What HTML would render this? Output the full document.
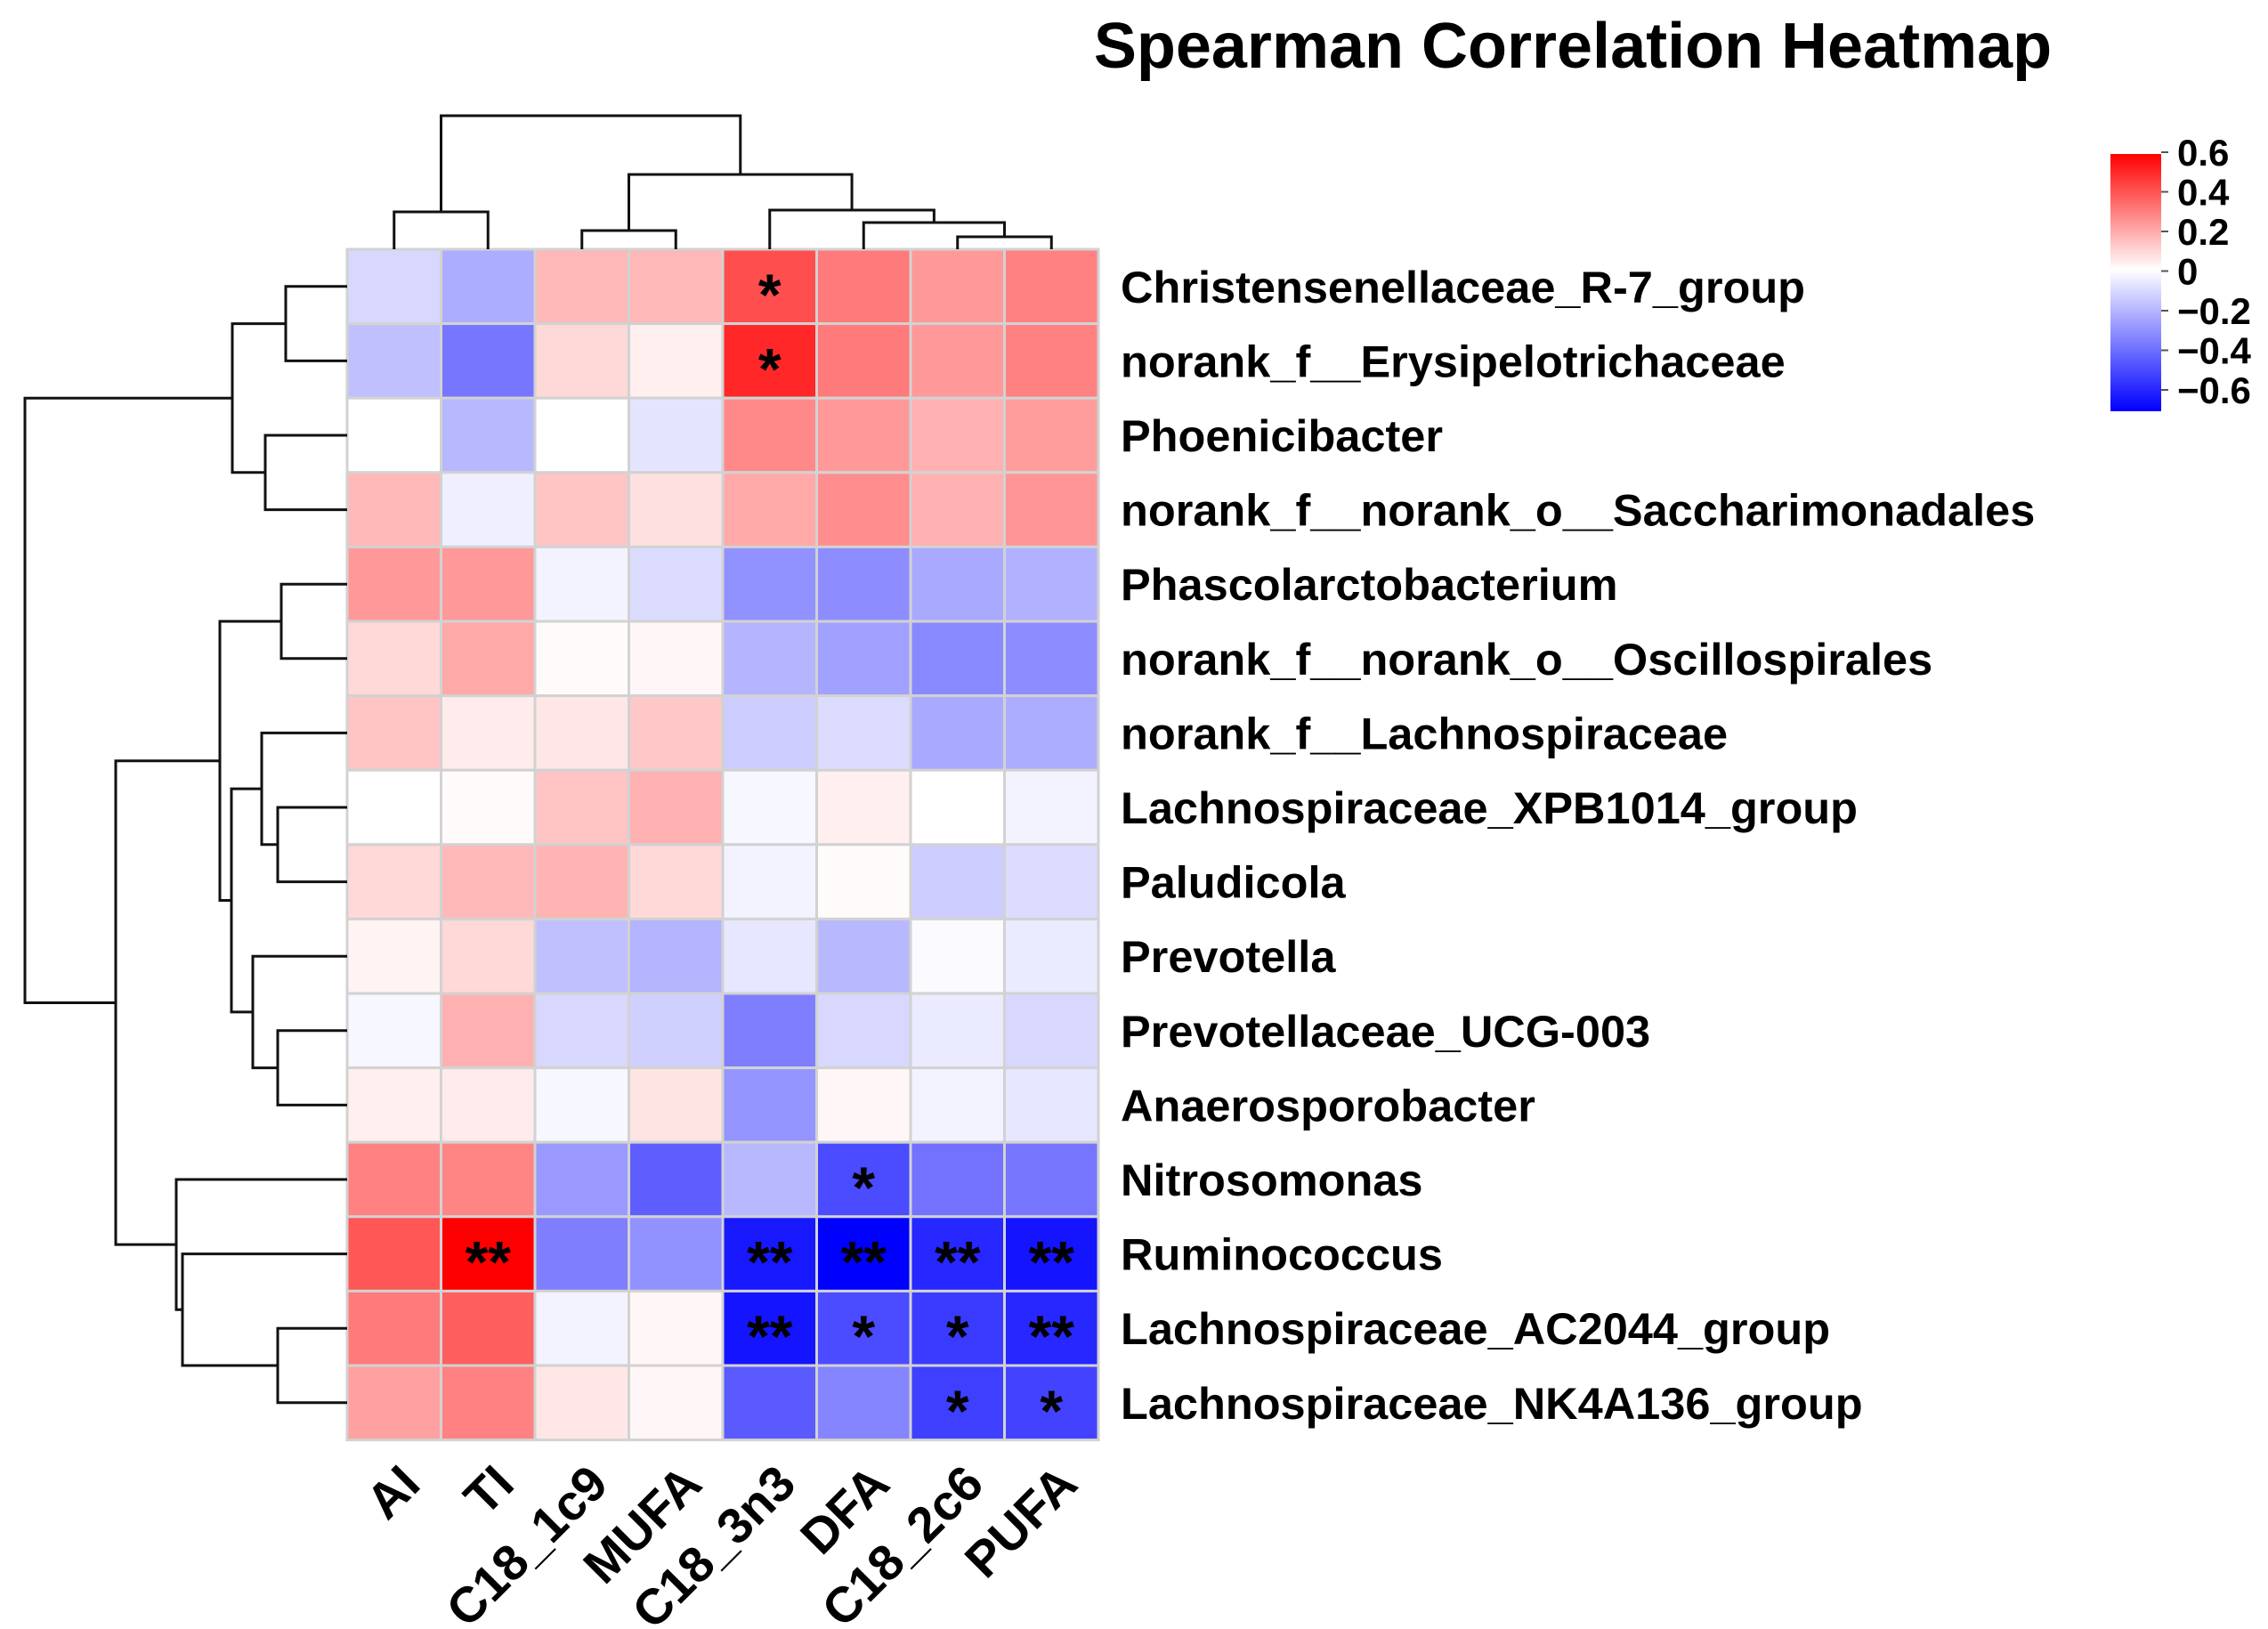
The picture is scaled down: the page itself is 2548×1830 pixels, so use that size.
<!DOCTYPE html>
<html><head><meta charset="utf-8"><style>
html,body{margin:0;padding:0;background:#fff;}
svg{display:block;font-family:"Liberation Sans",Arial,sans-serif;}
</style></head><body>
<svg id="chart" width="2548" height="1830" viewBox="0 0 2548 1830" xmlns="http://www.w3.org/2000/svg">
<defs><linearGradient id="cb" x1="0" y1="0" x2="0" y2="1">
<stop offset="0" stop-color="#ff0000"/><stop offset="0.45" stop-color="#ffffff"/><stop offset="1" stop-color="#0000ff"/></linearGradient></defs>
<text x="1767" y="76" font-size="72" font-weight="bold" text-anchor="middle">Spearman Correlation Heatmap</text>
<g id="cells"></g><g id="rdend"></g><g id="cdend"></g><g id="labels"></g>
<g id="legend">
<rect x="2371" y="173" width="57" height="289" fill="url(#cb)"/>
</g>
</svg>
<script>
const cols = ["AI","TI","C18_1c9","MUFA","C18_3n3","DFA","C18_2c6","PUFA"];
const rows = ["Christensenellaceae_R-7_group","norank_f__Erysipelotrichaceae","Phoenicibacter","norank_f__norank_o__Saccharimonadales","Phascolarctobacterium","norank_f__norank_o__Oscillospirales","norank_f__Lachnospiraceae","Lachnospiraceae_XPB1014_group","Paludicola","Prevotella","Prevotellaceae_UCG-003","Anaerosporobacter","Nitrosomonas","Ruminococcus","Lachnospiraceae_AC2044_group","Lachnospiraceae_NK4A136_group"];
const values = [
[-0.10,-0.21,0.18,0.18,0.45,0.34,0.26,0.32],
[-0.16,-0.35,0.10,0.04,0.55,0.34,0.26,0.32],
[0.00,-0.18,0.00,-0.07,0.30,0.26,0.20,0.25],
[0.18,-0.04,0.15,0.08,0.22,0.29,0.20,0.27],
[0.26,0.26,-0.03,-0.09,-0.28,-0.29,-0.22,-0.20],
[0.10,0.22,0.01,0.02,-0.19,-0.24,-0.30,-0.29],
[0.15,0.05,0.06,0.14,-0.13,-0.09,-0.22,-0.21],
[0.00,0.01,0.15,0.20,-0.02,0.04,0.00,-0.03],
[0.10,0.18,0.19,0.10,-0.03,0.01,-0.13,-0.09],
[0.03,0.10,-0.16,-0.19,-0.06,-0.18,-0.01,-0.05],
[-0.02,0.20,-0.10,-0.12,-0.33,-0.10,-0.05,-0.10],
[0.04,0.05,-0.02,0.07,-0.27,0.02,-0.03,-0.06],
[0.32,0.31,-0.26,-0.41,-0.18,-0.46,-0.36,-0.35],
[0.43,0.65,-0.33,-0.28,-0.59,-0.65,-0.55,-0.60],
[0.34,0.41,-0.03,0.02,-0.60,-0.46,-0.50,-0.55],
[0.24,0.32,0.06,0.02,-0.42,-0.31,-0.49,-0.48]];
const stars = [
["","","","","*","","",""],["","","","","*","","",""],
["","","","","","","",""],["","","","","","","",""],["","","","","","","",""],["","","","","","","",""],
["","","","","","","",""],["","","","","","","",""],["","","","","","","",""],["","","","","","","",""],
["","","","","","","",""],["","","","","","","",""],
["","","","","","*","",""],["","**","","","**","**","**","**"],
["","","","","**","*","*","**"],["","","","","","","*","*"]];
const legendTicks = [0.6,0.4,0.2,0,-0.2,-0.4,-0.6];
const legendLabels = ["0.6","0.4","0.2","0","\u22120.2","\u22120.4","\u22120.6"];
const colMerges = [[[0],[1],42],[[2],[3],21],[[6],[7],14],[[5],[6,7],30],[[4],[5,6,7],44],[[2,3],[4,5,6,7],84],[[0,1],[2,3,4,5,6,7],150]];
const rowMerges = [[[0],[1],69],[[2],[3],92],[[0,1],[2,3],129],[[4],[5],74],[[7],[8],78],[[6],[7,8],96],[[10],[11],78],[[9],[10,11],106],[[6,7,8],[9,10,11],130],[[4,5],[6,7,8,9,10,11],143],[[14],[15],78],[[13],[14,15],185],[[12],[13,14,15],192],[[4,5,6,7,8,9,10,11],[12,13,14,15],260],[[0,1,2,3],[4,5,6,7,8,9,10,11,12,13,14,15],362]];

const NS="http://www.w3.org/2000/svg";
const gx0=390, gy0=280, cw=105.5, ch=83.6;
const xC=i=>gx0+cw*i+cw/2, yC=j=>gy0+ch*j+ch/2;
function color(v){const f=Math.max(-1,Math.min(1,v/0.65));const c=Math.round(255*(1-Math.abs(f)));return f>=0?`rgb(255,${c},${c})`:`rgb(${c},${c},255)`;}
function mk(t,a,p){const e=document.createElementNS(NS,t);for(const k in a)e.setAttribute(k,a[k]);p.appendChild(e);return e;}
const cells=document.getElementById('cells');
rows.forEach((r,j)=>cols.forEach((c,i)=>{
 const e=mk('rect',{x:gx0+cw*i,y:gy0+ch*j,width:cw,height:ch,fill:color(values[j][i]),stroke:'#d2d2d2','stroke-width':3},cells);
 
 
 if(stars[j][i]){const t=mk('text',{x:xC(i),y:yC(j)+32,'font-size':66,'font-weight':'bold','text-anchor':'middle'},cells);t.textContent=stars[j][i];
 
 }
}));
const lab=document.getElementById('labels');
rows.forEach((r,j)=>{const t=mk('text',{x:1259,y:yC(j)+18,'font-size':50.5,'font-weight':'bold'},lab);t.textContent=r;
 
 });
cols.forEach((c,i)=>{const x=xC(i)+32,y=1670;const t=mk('text',{x:x,y:y,'font-size':56,'font-weight':'bold','text-anchor':'end',transform:`rotate(-45 ${x} ${y})`},lab);t.textContent=c;
 
 });
const lg=document.getElementById('legend');
const ly=v=>304.5-v*222.5;
legendTicks.forEach((v,k)=>{mk('line',{x1:2428,x2:2436,y1:ly(v),y2:ly(v),stroke:'#555','stroke-width':2},lg);
 const t=mk('text',{x:2446,y:ly(v)+15,'font-size':42,'font-weight':'bold'},lg);t.textContent=legendLabels[k];
 
 });
function draw(merges,isCol,g){
 const pos={};const key=a=>a.join(',');
 const center=a=>{const k=key(a);if(pos[k])return pos[k];return {c:(isCol?xC(a[0]):yC(a[0])),h:0};};
 merges.forEach(([a,b,h])=>{const A=center(a),B=center(b);let d;
  if(isCol){const y=gy0-h,ya=gy0-A.h,yb=gy0-B.h;d=`M${A.c},${ya}V${y}H${B.c}V${yb}`;}
  else{const x=gx0-h,xa=gx0-A.h,xb=gx0-B.h;d=`M${xa},${A.c}H${x}V${B.c}H${xb}`;}
  const p=mk('path',{d:d,fill:'none',stroke:'#111','stroke-width':3},g);
  
  
  pos[key(a.concat(b))]={c:(A.c+B.c)/2,h:h};});
}
draw(colMerges,true,document.getElementById('cdend'));
draw(rowMerges,false,document.getElementById('rdend'));
</script>
</body></html>
